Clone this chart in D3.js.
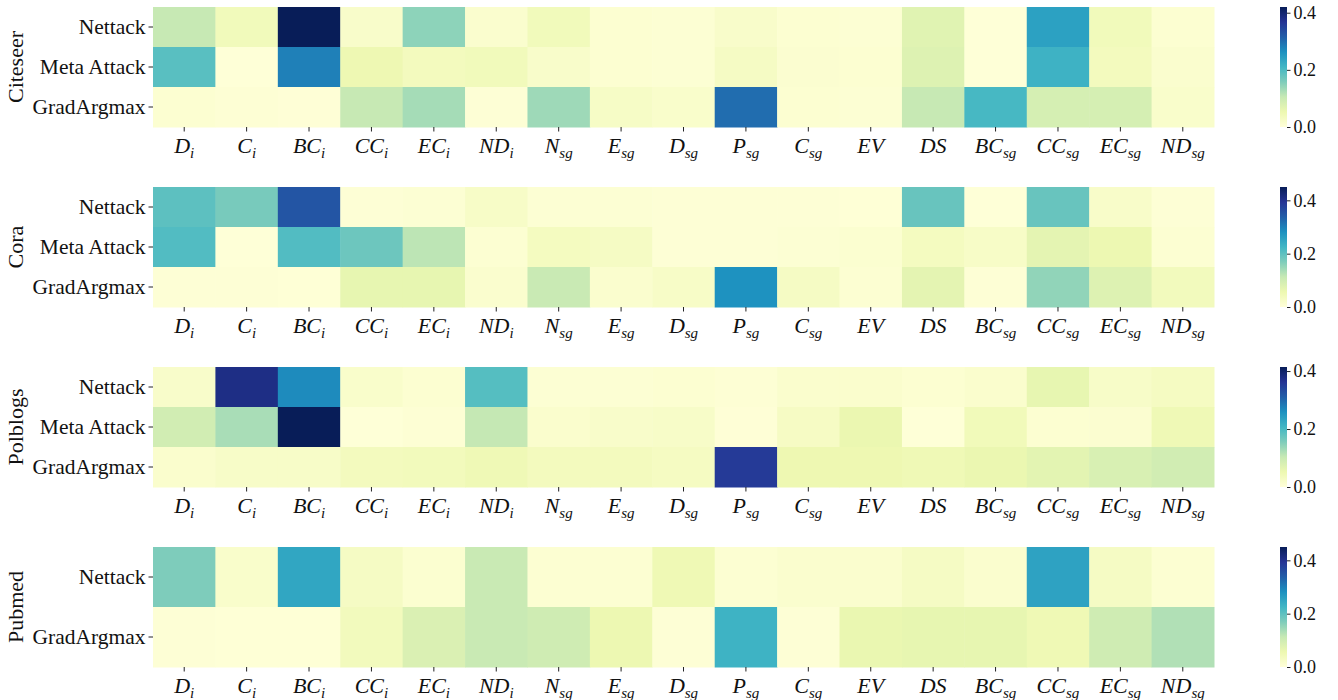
<!DOCTYPE html>
<html>
<head>
<meta charset="utf-8">
<script src="https://cdn.jsdelivr.net/npm/d3@7"></script>
<style>
  body { margin: 0; background: #fff; }
  svg text { font-family: "Liberation Serif", "Times New Roman", serif !important; fill: #111; }
</style>
</head>
<body>
<script>
// feature names: [main, subscript]
const features = [["D","i"],["C","i"],["BC","i"],["CC","i"],["EC","i"],["ND","i"],
  ["N","sg"],["E","sg"],["D","sg"],["P","sg"],["C","sg"],["EV",""],["DS",""],
  ["BC","sg"],["CC","sg"],["EC","sg"],["ND","sg"]];

const datasets = ["Citeseer", "Cora", "Polblogs", "Pubmed"];
const attacks3 = ["Nettack", "Meta Attack", "GradArgmax"];
const attacks2 = ["Nettack", "GradArgmax"];

const citeseer = [
  [0.105,0.04,0.42,0.02,0.147,0.015,0.04,0.01,0.008,0.02,0.01,0.008,0.07,0.003,0.24,0.04,0.01],
  [0.19,0.003,0.28,0.05,0.035,0.04,0.02,0.01,0.008,0.028,0.012,0.01,0.075,0.003,0.215,0.035,0.015],
  [0.01,0.006,0.004,0.105,0.13,0.005,0.135,0.025,0.018,0.30,0.01,0.008,0.105,0.205,0.085,0.085,0.018]
];
const cora = [
  [0.20,0.175,0.35,0.005,0.008,0.025,0.008,0.008,0.006,0.005,0.005,0.004,0.19,0.003,0.19,0.022,0.006],
  [0.21,0.003,0.21,0.185,0.12,0.01,0.035,0.03,0.005,0.006,0.008,0.012,0.035,0.025,0.07,0.055,0.01],
  [0.006,0.005,0.004,0.065,0.065,0.015,0.11,0.015,0.025,0.28,0.03,0.01,0.07,0.005,0.155,0.08,0.04]
];
const polblogs = [
  [0.02,0.375,0.265,0.018,0.01,0.19,0.008,0.008,0.01,0.006,0.015,0.015,0.01,0.015,0.06,0.022,0.03],
  [0.09,0.125,0.414,0.003,0.007,0.105,0.015,0.02,0.022,0.004,0.027,0.055,0.003,0.04,0.01,0.012,0.045],
  [0.015,0.022,0.022,0.035,0.038,0.045,0.035,0.035,0.03,0.355,0.05,0.05,0.045,0.055,0.065,0.08,0.09]
];
const pubmed = [
  [0.17,0.02,0.25,0.03,0.012,0.11,0.01,0.01,0.05,0.01,0.015,0.015,0.03,0.015,0.255,0.03,0.01],
  [0.005,0.004,0.004,0.04,0.085,0.11,0.10,0.055,0.006,0.23,0.005,0.06,0.065,0.065,0.05,0.10,0.13]
];
const colorMax = [0.42, 0.45, 0.414, 0.45];
const cbTicks = [0, 0.2, 0.4];

const panels = [
  {name: datasets[0], rows: attacks3, values: citeseer, vmax: colorMax[0]},
  {name: datasets[1], rows: attacks3, values: cora, vmax: colorMax[1]},
  {name: datasets[2], rows: attacks3, values: polblogs, vmax: colorMax[2]},
  {name: datasets[3], rows: attacks2, values: pubmed, vmax: colorMax[3]}
];

// matplotlib YlGnBu anchors
const ylgnbu = ["#ffffd9","#edf8b1","#c7e9b4","#7fcdbb","#41b6c4","#1d91c0","#225ea8","#253494","#081d58"];

var width = 1338, height = 700;
var left = 153, right = 1214, panelH = 120, top0 = 7, step = 180;
var cbX = 1280, cbW = 7;
var serif = '"Liberation Serif", "Times New Roman", serif';

var svg = d3.select("body").append("svg")
    .attr("width", width).attr("height", height);
var defs = svg.append("defs");

var x = d3.scaleBand().domain(d3.range(features.length)).range([left, right]);

panels.forEach(function(p, k){
  var y0 = top0 + k*step;
  var g = svg.append("g");
  var y = d3.scaleBand().domain(p.rows).range([y0, y0 + panelH]);
  var color = d3.scaleLinear()
      .domain(ylgnbu.map(function(c, i){ return i/8*p.vmax; }))
      .range(ylgnbu).clamp(true);

  p.values.forEach(function(row, r){
    g.selectAll(null).data(row).enter().append("rect")
      .attr("x", function(d, i){ return x(i); })
      .attr("y", y(p.rows[r]))
      .attr("width", x.bandwidth() + 0.5)
      .attr("height", y.bandwidth() + 0.5)
      .attr("fill", function(d){ return color(d); });
  });

  // y axis
  var ya = g.append("g").attr("transform", "translate(" + left + ",0)")
    .call(d3.axisLeft(y).tickSize(4.5).tickPadding(3));
  ya.attr("font-family", serif);
  ya.select(".domain").remove();
  ya.selectAll("line").attr("stroke", "#222").attr("stroke-width", 1);
  ya.selectAll("text").style("font-family", serif).style("font-size", "21.5px").attr("fill", "#111");

  // x axis
  var xa = g.append("g").attr("transform", "translate(0," + (y0 + panelH) + ")")
    .call(d3.axisBottom(x).tickSize(4.5).tickFormat(""));
  xa.select(".domain").remove();
  xa.selectAll("line").attr("stroke", "#222").attr("stroke-width", 1);
  features.forEach(function(f, i){
    var t = g.append("text")
      .attr("x", x(i) + x.bandwidth()/2)
      .attr("y", y0 + panelH + 26)
      .attr("text-anchor", "middle")
      .style("font-family", serif)
      .style("font-size", "22px")
      .style("font-style", "italic");
    t.append("tspan").text(f[0]);
    if (f[1]) t.append("tspan").attr("dy", 5).style("font-size", "15px").text(f[1]);
  });

  // dataset label
  g.append("text")
    .attr("transform", "translate(23," + (y0 + panelH/2) + ") rotate(-90)")
    .attr("text-anchor", "middle")
    .style("font-family", serif)
    .style("font-size", "22px")
    .text(p.name);

  // colorbar
  var gid = "cb" + k;
  var grad = defs.append("linearGradient").attr("id", gid)
    .attr("x1", 0).attr("y1", 1).attr("x2", 0).attr("y2", 0);
  ylgnbu.forEach(function(c, i){
    grad.append("stop").attr("offset", (i/8*100) + "%").attr("stop-color", c);
  });
  svg.append("rect").attr("x", cbX).attr("y", y0).attr("width", cbW).attr("height", panelH)
    .attr("fill", "url(#" + gid + ")");
  var cs = d3.scaleLinear().domain([0, p.vmax]).range([y0 + panelH, y0]);
  var ca = svg.append("g").attr("transform", "translate(" + (cbX + cbW) + ",0)")
    .call(d3.axisRight(cs).tickValues(cbTicks).tickFormat(d3.format(".1f")).tickSize(3.5).tickPadding(3));
  ca.attr("font-family", serif);
  ca.select(".domain").remove();
  ca.selectAll("line").attr("stroke", "#222");
  ca.selectAll("text").style("font-family", serif).style("font-size", "18px").attr("fill", "#111");
});
</script>
</body>
</html>
